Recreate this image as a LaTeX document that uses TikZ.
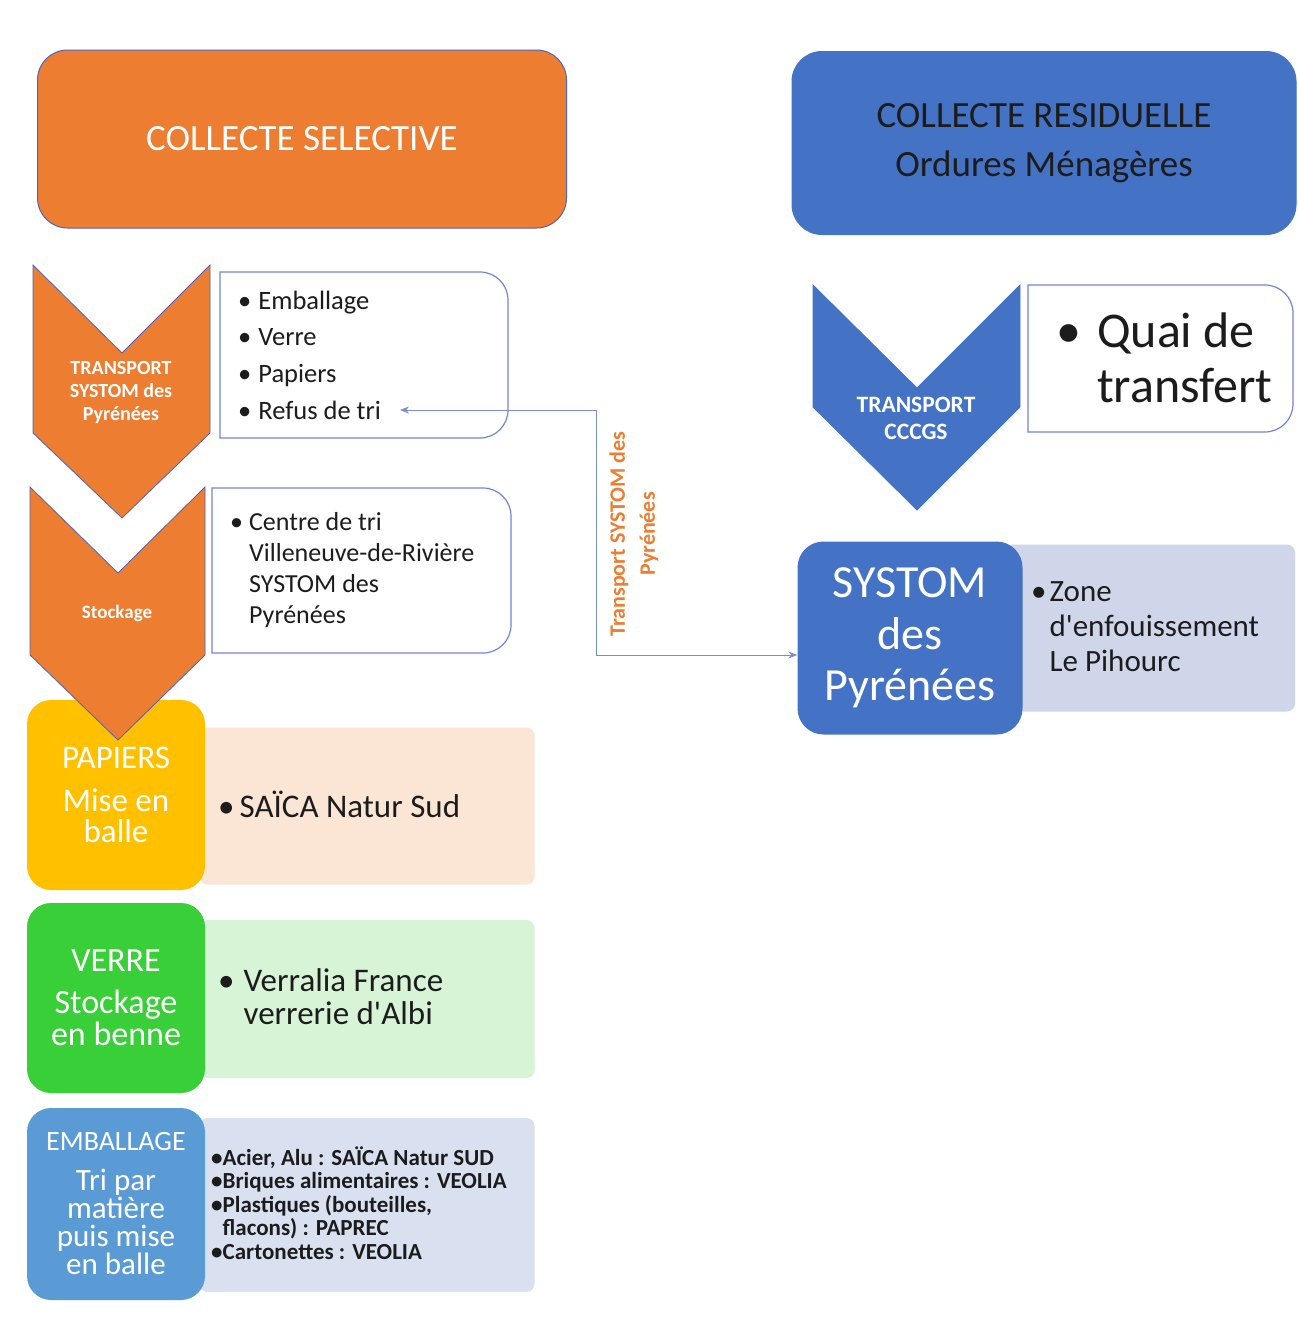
\documentclass[tikz,border=0pt]{standalone}
\usepackage{fontspec}
\setmainfont{Carlito}
\usetikzlibrary{arrows.meta,backgrounds}

\definecolor{selorange}{HTML}{ED7D31}
\definecolor{resblue}{HTML}{4472C4}
\definecolor{edgeblue}{HTML}{4F63B8}
\definecolor{frameblue}{HTML}{7284D4}
\definecolor{linkblue}{HTML}{7C8CD0}
\definecolor{ink}{HTML}{1C1C1C}
\definecolor{papgold}{HTML}{FFC000}
\definecolor{pappeach}{HTML}{FBE6D6}
\definecolor{vergreen}{HTML}{38CF38}
\definecolor{verpale}{HTML}{D7F4D7}
\definecolor{embblue}{HTML}{5B9BD5}
\definecolor{embpale}{HTML}{D9E1F1}
\definecolor{zonegrey}{HTML}{D0D6EA}

\begin{document}
\begin{tikzpicture}[x=1pt,y=-1pt,
  execute at end picture=%
  {
    \begin{pgfonlayer}{background}
      \path[fill=white]
      (current bounding box.south west) rectangle
      (current bounding box.north east);
    \end{pgfonlayer}
  },
  header/.style={line width=1pt,rounded corners=30pt,align=center},
  chevron/.style={line width=0.8pt},
  chevtext/.style={text=white,font=\bfseries\fontsize{20}{23}\selectfont,align=center},
  frame/.style={draw=frameblue,line width=1.2pt},
  listtext/.style={anchor=west,inner sep=0pt,align=left,text=ink},
  stage/.style={rounded corners=24pt,minimum width=178pt,text=white,align=center},
  band/.style={rounded corners=8pt,minimum width=335pt},
  link/.style={draw=linkblue,line width=1pt,{Stealth[length=9pt,width=7pt]}-{Stealth[length=9pt,width=7pt]}}]

  \useasboundingbox (0,0) rectangle (1298,1328);

  % headers
  \node[header,fill=selorange,draw=edgeblue,minimum width=529pt,minimum height=178pt,
    text=white,font=\fontsize{37}{49}\selectfont] (selective) at (302,139) {COLLECTE SELECTIVE};
  \node[header,fill=resblue,draw=resblue,minimum width=504pt,minimum height=183pt,
    text=ink,font=\fontsize{37}{49}\selectfont] (residuelle) at (1044,143) {COLLECTE RESIDUELLE\\Ordures Ménagères};

  % colour bands of the sorted flows
  \node[band,fill=pappeach,minimum height=157pt] (papband) at (367,806) {};
  \node[band,fill=verpale,minimum height=158pt] (verband) at (367,999) {};
  \node[band,fill=embpale,minimum height=174pt] (embband) at (367,1205) {};

  \node[stage,fill=papgold,minimum height=190pt,font=\fontsize{33}{31}\selectfont] (papiers) at (116,795)
    {PAPIERS\\[12pt]Mise en\\balle};
  \node[stage,fill=vergreen,minimum height=190pt,font=\fontsize{34}{32}\selectfont] (verre) at (116,998)
    {VERRE\\[10pt]Stockage\\en benne};
  \node[stage,fill=embblue,minimum height=192pt,font=\fontsize{31}{28}\selectfont] (emballage) at (116,1204)
    {{\fontsize{28}{28}\selectfont EMBALLAGE}\\[12pt]Tri par\\matière\\puis mise\\en balle};

  \node[listtext,font=\fontsize{33}{33}\selectfont] (saica) at (218,804) {•\hspace{5pt}SAÏCA Natur Sud};
  \node[listtext,font=\fontsize{33}{33}\selectfont] (verralia) at (218,997)
    {•\hspace{9pt}Verralia France\\\hphantom{•\hspace{9pt}}verrerie d\textquotesingle Albi};
  \node[listtext,font=\bfseries\fontsize{23}{23.5}\selectfont] (filieres) at (211,1203)
    {•Acier, Alu : SAÏCA Natur SUD\\•Briques alimentaires : VEOLIA\\•Plastiques (bouteilles,\\
     \hphantom{•}flacons) : PAPREC\\•Cartonettes : VEOLIA};

  % orange chevrons
  \draw[chevron,fill=selorange,draw=edgeblue] (33,265) -- (122,353) -- (210,265) -- (210,433)
    -- (122,518) -- (33,433) -- cycle;
  \node[chevtext] (transport) at (121,393) {TRANSPORT\\SYSTOM des\\Pyrénées};
  \draw[chevron,fill=selorange,draw=edgeblue] (30,487) -- (118,573) -- (205,487) -- (205,655)
    -- (118,740) -- (30,655) -- cycle;
  \node[chevtext,font=\bfseries\fontsize{19}{20}\selectfont] (stockage) at (117,613) {Stockage};

  \draw[frame] (220,438) -- (220,272) [rounded corners=28pt] -- (508,272) -- (508,438) [sharp corners] -- cycle;
  \node[listtext,font=\fontsize{26.5}{36.6}\selectfont] (apports) at (238,355)
    {•\hspace{7pt}Emballage\\•\hspace{7pt}Verre\\•\hspace{7pt}Papiers\\•\hspace{7pt}Refus de tri};
  \coordinate (refus) at (400,410);

  \draw[frame] (212,653) -- (212,488) [rounded corners=28pt] -- (511,488) -- (511,653) [sharp corners] -- cycle;
  \node[listtext,font=\fontsize{26}{31}\selectfont] (centretri) at (230,570)
    {•\hspace{6pt}Centre de tri\\\hphantom{•\hspace{6pt}}Villeneuve-de-Rivière\\
     \hphantom{•\hspace{6pt}}SYSTOM des\\\hphantom{•\hspace{6pt}}Pyrénées};

  % residual waste
  \draw[chevron,fill=resblue,draw=resblue] (813,285) -- (917,388) -- (1020,285) -- (1020,407)
    -- (917,510) -- (813,407) -- cycle;
  \node[chevtext,font=\bfseries\fontsize{23.5}{27}\selectfont] (cccgs) at (916,418) {TRANSPORT\\CCCGS};

  \draw[frame] (1028,432) -- (1028,285) [rounded corners=28pt] -- (1293,285) -- (1293,432) [sharp corners] -- cycle;
  \node[listtext,font=\fontsize{50}{55}\selectfont] (quai) at (1056,358)
    {•\hspace{16pt}Quai de\\\hphantom{•\hspace{16pt}}transfert};

  \node[band,fill=zonegrey,minimum width=290pt,minimum height=167pt] (zoneband) at (1150,628) {};
  \node[rounded corners=26pt,fill=resblue,minimum width=225pt,minimum height=193pt,text=white,
    align=center,font=\fontsize{46}{51.5}\selectfont] (systom) at (910,638) {SYSTOM\\des\\Pyrénées};
  \node[listtext,font=\fontsize{31}{35}\selectfont] (zone) at (1031,627)
    {•\hspace{3pt}Zone\\\hphantom{•\hspace{3pt}}d\textquotesingle enfouissement\\\hphantom{•\hspace{3pt}}Le Pihourc};

  % transport of sorting rejects
  \coordinate (elbow) at (596,655);
  \draw[link] (refus) -| (elbow) -- (elbow -| systom.west);
  \node[rotate=90,text=selorange,align=center,font=\bfseries\fontsize{22}{30}\selectfont] (liaison)
    at (634,534) {Transport SYSTOM des\\Pyrénées};
\end{tikzpicture}
\end{document}
